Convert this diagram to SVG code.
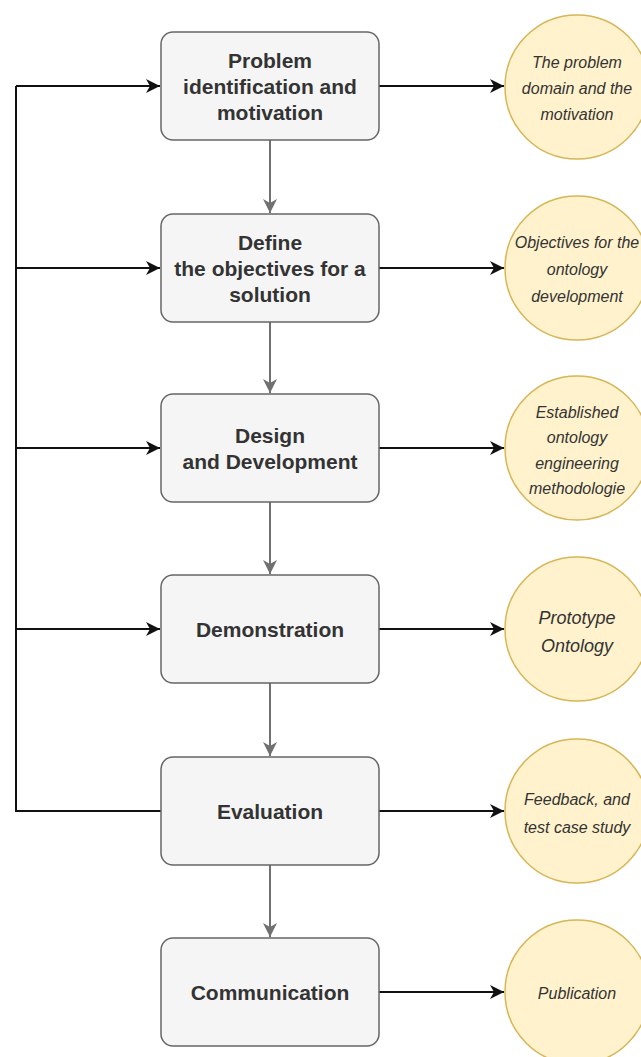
<svg xmlns="http://www.w3.org/2000/svg" width="641" height="1057" viewBox="0 0 641 1057">
<style>
.box{fill:#f5f5f5;stroke:#666666;stroke-width:1.5}
.circ{fill:#fff2cc;stroke:#d6b656;stroke-width:1.5}
.bt{font-family:"Liberation Sans",Arial,sans-serif;font-size:21px;font-weight:bold;fill:#333333;text-anchor:middle}
.ct{font-family:"Liberation Sans",Arial,sans-serif;font-size:16px;font-style:italic;fill:#333333;text-anchor:middle}
.blk{fill:none;stroke:#111111;stroke-width:2}
.gry{fill:none;stroke:#707070;stroke-width:2}
</style>
<defs>
<marker id="ab" markerUnits="userSpaceOnUse" markerWidth="15" markerHeight="14" refX="14" refY="7" orient="auto">
<path d="M0,0 L14,7 L0,14 L4,7 Z" fill="#111111"/>
</marker>
<marker id="ag" markerUnits="userSpaceOnUse" markerWidth="15" markerHeight="14" refX="14" refY="7" orient="auto">
<path d="M0,0 L14,7 L0,14 L4,7 Z" fill="#707070"/>
</marker>
</defs>
<g id="connectors">
<path class="blk" d="M161,811 H16 V86"/>
<path class="blk" d="M16,86 H160" marker-end="url(#ab)"/>
<path class="blk" d="M16,268 H160" marker-end="url(#ab)"/>
<path class="blk" d="M16,448 H160" marker-end="url(#ab)"/>
<path class="blk" d="M16,629 H160" marker-end="url(#ab)"/>
<path class="blk" d="M379,86 H504" marker-end="url(#ab)"/>
<path class="blk" d="M379,268 H504" marker-end="url(#ab)"/>
<path class="blk" d="M379,448 H504" marker-end="url(#ab)"/>
<path class="blk" d="M379,629 H504" marker-end="url(#ab)"/>
<path class="blk" d="M379,811 H504" marker-end="url(#ab)"/>
<path class="blk" d="M379,992 H504" marker-end="url(#ab)"/>
<path class="gry" d="M270,140 V213" marker-end="url(#ag)"/>
<path class="gry" d="M270,322 V393" marker-end="url(#ag)"/>
<path class="gry" d="M270,502 V574" marker-end="url(#ag)"/>
<path class="gry" d="M270,683 V756" marker-end="url(#ag)"/>
<path class="gry" d="M270,865 V937" marker-end="url(#ag)"/>
</g>
<g id="n1"><rect class="box" x="161" y="32" width="218" height="108" rx="12"/>
<text class="bt" x="270" y="67.5">Problem</text><text class="bt" x="270" y="93.5">identification and</text><text class="bt" x="270" y="119.5">motivation</text></g>
<g id="n2"><rect class="box" x="161" y="214" width="218" height="108" rx="12"/>
<text class="bt" x="270" y="249.5">Define</text><text class="bt" x="270" y="275.5">the objectives for a</text><text class="bt" x="270" y="301.5">solution</text></g>
<g id="n3"><rect class="box" x="161" y="394" width="218" height="108" rx="12"/>
<text class="bt" x="270" y="442.5">Design</text><text class="bt" x="270" y="468.5">and Development</text></g>
<g id="n4"><rect class="box" x="161" y="575" width="218" height="108" rx="12"/>
<text class="bt" x="270" y="636.5">Demonstration</text></g>
<g id="n5"><rect class="box" x="161" y="757" width="218" height="108" rx="12"/>
<text class="bt" x="270" y="818.5">Evaluation</text></g>
<g id="n6"><rect class="box" x="161" y="938" width="218" height="108" rx="12"/>
<text class="bt" x="270" y="999.5">Communication</text></g>
<g id="c1"><circle class="circ" cx="577" cy="87" r="72"/>
<text class="ct" x="577" y="68">The problem</text><text class="ct" x="577" y="94">domain and the</text><text class="ct" x="577" y="120">motivation</text></g>
<g id="c2"><circle class="circ" cx="577" cy="268" r="72"/>
<text class="ct" x="577" y="248">Objectives for the</text><text class="ct" x="577" y="275">ontology</text><text class="ct" x="577" y="302">development</text></g>
<g id="c3"><circle class="circ" cx="577" cy="448" r="72"/>
<text class="ct" x="577" y="418">Established</text><text class="ct" x="577" y="443">ontology</text><text class="ct" x="577" y="469">engineering</text><text class="ct" x="577" y="494">methodologie</text></g>
<g id="c4"><circle class="circ" cx="577" cy="629" r="72"/>
<text class="ct" x="577" y="623.5" style="font-size:18px">Prototype</text><text class="ct" x="577" y="651.5" style="font-size:18px">Ontology</text></g>
<g id="c5"><circle class="circ" cx="577" cy="811" r="72"/>
<text class="ct" x="577" y="805">Feedback, and</text><text class="ct" x="577" y="833">test case study</text></g>
<g id="c6"><circle class="circ" cx="577" cy="992" r="72"/>
<text class="ct" x="577" y="999">Publication</text></g>
</svg>
